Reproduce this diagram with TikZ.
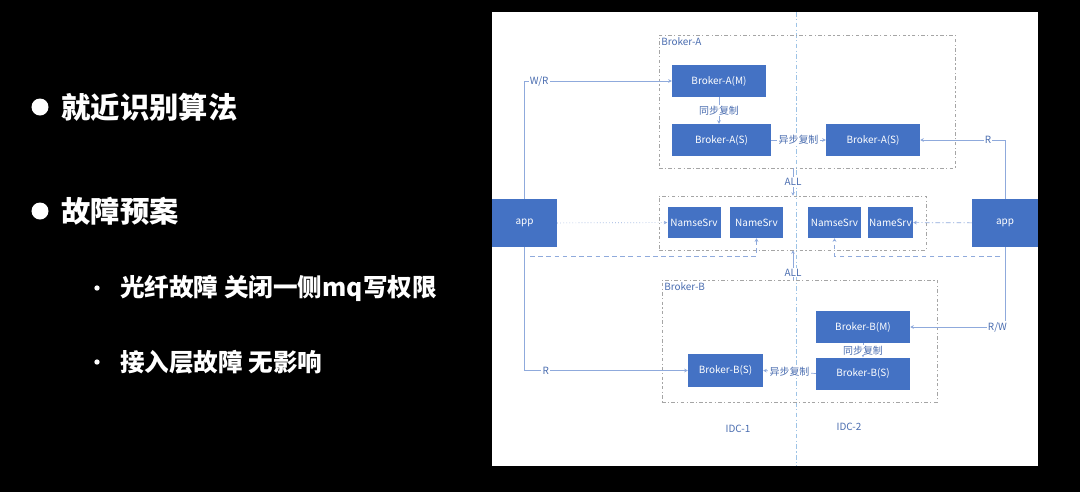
\documentclass[tikz,border=0pt]{standalone}
\usepackage{fontspec}
\setmainfont{Noto Sans CJK SC}
\usetikzlibrary{positioning, arrows.meta, calc}
\definecolor{boxBlue}{HTML}{4472C4}
\definecolor{lineBlue}{HTML}{8FAADC}
\definecolor{labelBlue}{HTML}{4A6DB0}
\definecolor{groupGrey}{HTML}{A5A5A5}
\definecolor{idcBlue}{HTML}{9DC3E6}

\begin{document}
\begin{tikzpicture}[x=0.03cm, y=-0.03cm, font=\fontsize{8.5}{10}\selectfont,
    srvbox/.style={fill=boxBlue, text=white, inner sep=0pt, minimum width=2.82cm, minimum height=0.96cm},
    nsbox/.style={fill=boxBlue, text=white, inner sep=0pt, minimum width=1.59cm, minimum height=0.93cm},
    groupbox/.style={draw=groupGrey, line width=0.5pt, dash pattern=on 3pt off 2pt on 1pt off 2pt, inner sep=0pt},
    flow/.style={draw=lineBlue, line width=0.6pt, -{Stealth[length=3pt, width=3pt]}},
    lbl/.style={text=labelBlue, fill=white, inner sep=1pt},
    bigtext/.style={text=white, font=\fontsize{25}{30}\selectfont\bfseries, inner sep=0pt},
    subtext/.style={text=white, font=\fontsize{21}{26}\selectfont\bfseries, inner sep=0pt}]
    % slide and panel
    \fill[black] (0,0) rectangle (1080,492);
    \fill[white] (492,12) rectangle (1038,466);

    % left bullets
    \node[circle, fill=white, minimum size=0.51cm, inner sep=0pt] (dot1) at (40,107) {};
    \node[bigtext, right=0.38cm of dot1] (algo) {就近识别算法};
    \node[circle, fill=white, minimum size=0.51cm, inner sep=0pt] (dot2) at (40,211) {};
    \node[bigtext, right=0.38cm of dot2] (plan) {故障预案};
    \node[circle, fill=white, minimum size=0.16cm, inner sep=0pt] (dot3) at (97,288) {};
    \node[subtext, right=0.6cm of dot3] (fiber) {光纤故障 关闭一侧mq写权限};
    \node[circle, fill=white, minimum size=0.16cm, inner sep=0pt] (dot4) at (97,362) {};
    \node[subtext, right=0.6cm of dot4] (access) {接入层故障 无影响};

    % idc split line
    \coordinate (idcTop) at (796,12);
    \coordinate (idcBot) at (796,466);
    \draw[idcBlue, line width=0.6pt, dash pattern=on 4pt off 2pt on 1pt off 2pt] (idcTop) -- (idcBot);

    % groups
    \node[groupbox, minimum width=8.88cm, minimum height=3.99cm] (grpa) at (807,101.5) {};
    \node[groupbox, minimum width=8.01cm, minimum height=1.62cm] (grpns) at (792.5,223) {};
    \node[groupbox, minimum width=8.25cm, minimum height=3.66cm] (grpb) at (799.5,341) {};
    \node[text=labelBlue, anchor=north west, inner sep=2pt] at (grpa.north west) {Broker-A};
    \node[text=labelBlue, anchor=north west, inner sep=2pt] at (grpb.north west) {Broker-B};

    % brokers
    \node[srvbox] (bam) at (719,81) {Broker-A(M)};
    \node[srvbox, minimum width=2.97cm] (bas) at (721.5,140) {Broker-A(S)};
    \node[srvbox] (ras) at (873,140) {Broker-A(S)};
    \node[srvbox] (bbm) at (863,327) {Broker-B(M)};
    \node[srvbox] (bbs) at (863,373.5) {Broker-B(S)};
    \node[srvbox, minimum width=2.25cm, minimum height=0.99cm] (bbl) at (725.5,370.5) {Broker-B(S)};

    % name servers
    \node[nsbox] (ns1) at (694,222.5) {NamseSrv};
    \node[nsbox] (ns2) at (756.5,222.5) {NameSrv};
    \node[nsbox] (ns3) at (834.5,222.5) {NamseSrv};
    \node[nsbox, minimum width=1.35cm] (ns4) at (890.5,222.5) {NameSrv};

    % apps
    \node[fill=boxBlue, text=white, minimum width=1.95cm, minimum height=1.44cm] (appl) at (524.5,223) {app};
    \node[fill=boxBlue, text=white, minimum width=1.98cm, minimum height=1.44cm] (appr) at (1005,223) {app};

    % replication
    \draw[flow] (bam.south) -- node[lbl] {同步复制} (bam.south |- bas.north);
    \draw[flow] (bas.east) -- node[lbl] {异步复制} (ras.west);
    \draw[flow] (bbm.south) -- node[lbl, inner sep=0.5pt] {同步复制} (bbs.north);
    \draw[flow] (bbs.west) -- node[lbl] {异步复制} (bbl.east);

    % app access
    \draw[flow] (appl.north) |- node[lbl, pos=0.55] {W/R} (bam.west);
    \draw[flow] (appr.north) |- node[lbl, pos=0.6] {R} (ras.east);
    \draw[flow] (appl.south) |- node[lbl, pos=0.565] {R} (bbl.west);
    \draw[flow] (appr.south) |- node[lbl, pos=0.54] {R/W} (bbm.east);

    % name server links
    \coordinate (allx) at (793,0);
    \draw[flow] (grpa.south -| allx) -- node[lbl] {ALL} (grpns.north -| allx);
    \draw[flow] (grpb.north -| allx) -- node[lbl, pos=0.25] {ALL} (grpns.south -| allx);
    \draw[flow, dotted] (appl) -- (ns1);
    \draw[flow, dash pattern=on 4pt off 2pt on 1pt off 2pt] (appr) -- (ns4);
    \coordinate (nsl) at (530,256);
    \coordinate (nsr) at (1000,256);
    \draw[flow, dash pattern=on 4pt off 3pt] (nsl) -| (ns2.south);
    \draw[flow, dash pattern=on 4pt off 3pt] (nsr) -| (ns3.south);

    % idc labels
    \node[text=labelBlue] (idc1) at (738,429) {IDC-1};
    \node[text=labelBlue] (idc2) at (849,427) {IDC-2};
\end{tikzpicture}
\end{document}
